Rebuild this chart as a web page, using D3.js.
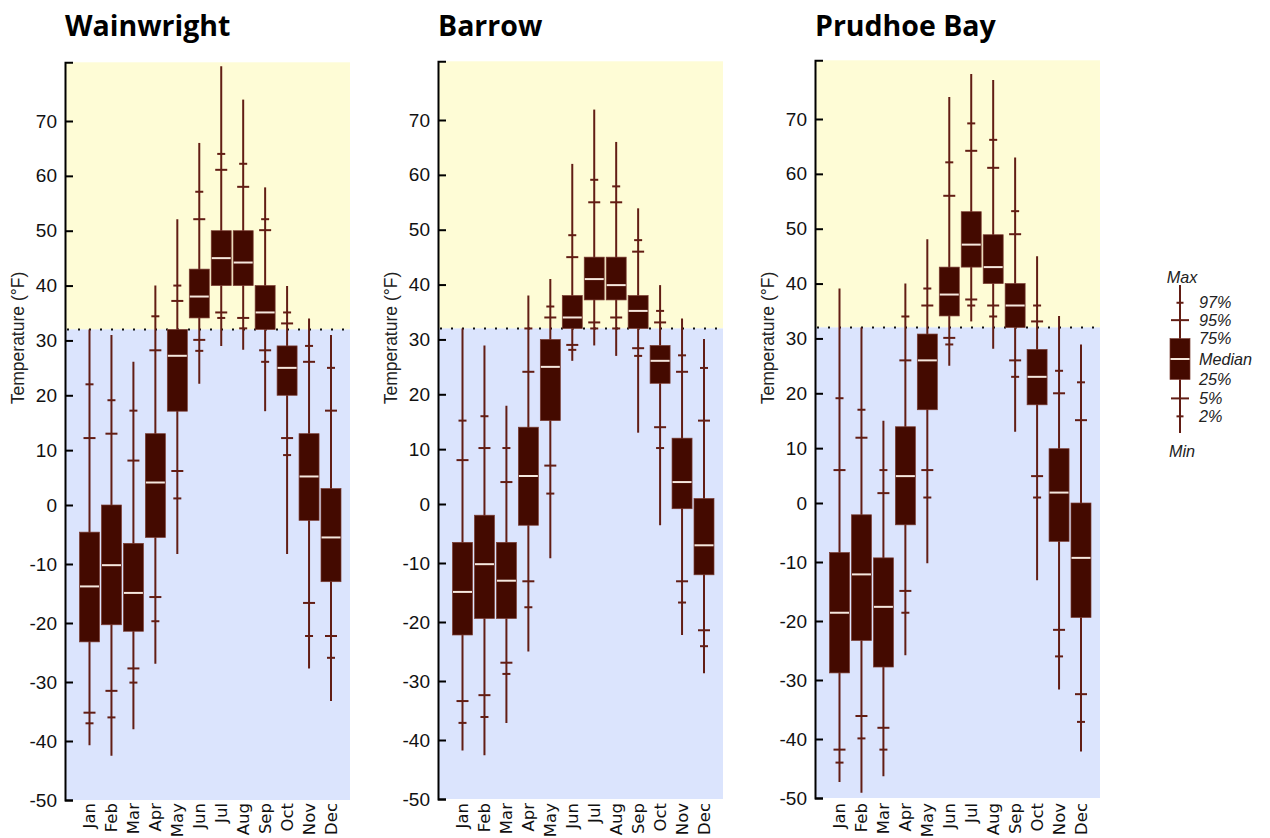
<!DOCTYPE html>
<html>
<head>
<meta charset="utf-8">
<script src="https://cdn.jsdelivr.net/npm/d3@7"></script>
<style>
  body { margin: 0; background: #fff; }
  svg { display: block; }
</style>
</head>
<body>
<div id="chart"></div>
<script>
// monthly temperature distributions (°F): [min, 2%, 5%, 25%, median, 75%, 95%, 97%, max]
const months = ['Jan', 'Feb', 'Mar', 'Apr', 'May', 'Jun', 'Jul', 'Aug', 'Sep', 'Oct', 'Nov', 'Dec'];

const wainwright = [
  [-40.7, -37.0, -35.2, -23.2, -13.8, -4.6, 12.2, 22.0, 32.0],
  [-42.5, -36.0, -31.5, -20.3, -10.2, 0.0, 13.0, 19.1, 31.0],
  [-38.0, -30.1, -27.7, -21.4, -14.9, -6.5, 8.1, 17.2, 26.1],
  [-26.9, -19.7, -15.6, -5.5, 4.1, 13.0, 28.2, 34.4, 40.0],
  [-8.3, 1.2, 6.2, 17.1, 27.2, 32.0, 37.2, 40.0, 52.1],
  [22.1, 28.1, 30.1, 34.1, 38.0, 43.0, 52.1, 57.1, 66.0],
  [29.0, 34.1, 35.1, 40.0, 45.0, 50.0, 61.1, 64.0, 80.0],
  [28.3, 32.2, 34.1, 40.0, 44.2, 50.0, 58.0, 62.2, 73.9],
  [17.1, 26.1, 28.2, 32.0, 35.1, 40.0, 50.1, 52.1, 57.9],
  [-8.3, 9.1, 12.2, 20.0, 25.0, 29.0, 33.1, 35.1, 39.9],
  [-27.7, -22.2, -16.6, -2.6, 5.2, 13.0, 26.1, 29.0, 34.0],
  [-33.2, -25.9, -22.2, -13.0, -5.5, 3.0, 17.2, 25.0, 31.0]
];

const barrow = [
  [-41.8, -37.1, -33.4, -22.2, -14.9, -6.5, 8.0, 15.2, 32.0],
  [-42.6, -36.1, -32.4, -19.4, -10.2, -1.9, 10.2, 16.0, 28.9],
  [-37.1, -28.8, -26.9, -19.4, -13.0, -6.5, 4.0, 10.2, 17.9],
  [-25.0, -17.5, -13.1, -3.6, 5.1, 14.0, 24.1, 32.0, 38.0],
  [-9.2, 1.9, 7.0, 15.2, 25.0, 30.0, 34.0, 36.0, 41.0],
  [26.1, 28.1, 29.0, 32.0, 34.0, 38.0, 45.0, 49.0, 62.0],
  [28.9, 32.0, 33.1, 37.2, 41.0, 45.0, 55.0, 59.1, 71.9],
  [27.0, 32.0, 34.0, 37.2, 39.9, 45.0, 55.0, 57.9, 66.0],
  [13.0, 27.0, 28.4, 32.0, 35.2, 38.0, 46.0, 48.1, 53.9],
  [-3.6, 10.2, 14.0, 22.0, 26.1, 28.9, 33.1, 35.2, 39.9],
  [-22.2, -16.7, -13.1, -0.8, 4.0, 12.0, 24.1, 27.1, 33.8],
  [-28.7, -24.1, -21.4, -12.0, -7.0, 1.0, 15.2, 24.8, 30.1]
];

const prudhoeBay = [
  [-47.3, -44.0, -41.8, -28.8, -18.6, -8.4, 6.0, 19.1, 39.1],
  [-49.1, -39.9, -36.1, -23.3, -12.1, -2.0, 11.9, 17.0, 32.0],
  [-46.3, -41.8, -38.1, -27.8, -17.6, -9.3, 1.8, 6.0, 15.0],
  [-25.8, -18.6, -14.9, -3.7, 4.9, 13.9, 26.0, 34.0, 40.0],
  [-10.2, 1.0, 6.0, 17.0, 26.0, 30.8, 36.0, 39.1, 48.1],
  [25.0, 28.9, 30.1, 34.1, 38.0, 43.0, 56.0, 62.1, 74.0],
  [33.1, 36.0, 37.1, 43.0, 47.1, 53.1, 64.2, 69.2, 78.2],
  [28.1, 34.0, 36.0, 40.0, 43.0, 48.9, 61.1, 66.2, 77.1],
  [13.0, 23.0, 26.0, 32.0, 36.0, 40.0, 49.0, 53.2, 63.0],
  [-13.1, 1.0, 4.9, 17.9, 23.0, 28.0, 33.1, 36.0, 45.0],
  [-31.6, -26.0, -21.5, -6.5, 1.9, 9.9, 20.0, 24.1, 34.1],
  [-42.1, -37.1, -32.4, -19.4, -9.3, 0.0, 15.1, 22.0, 28.9]
];

const yTicks = d3.range(-50, 71, 10);
const yDomain = [-50, 0, 80.7];
const freezing = 32;

// schematic legend box: label, position on a 0..8 legend scale
const legendLabels = ['Max', '97%', '95%', '75%', 'Median', '25%', '5%', '2%', 'Min'];
const legendLevels = [0, 0.96, 1.9, 2.9, 4.0, 5.1, 6.13, 7.1, 8];

// ---------------------------------------------------------------------------
const width = 1270, height = 838;
const panelW = 285;
const boxW = 20;
const colBox = '#440a00', colWhisker = '#621d14', colMedian = '#f6e8de';
const colWarm = '#fefcd6', colCold = '#dbe4fd';

const panels = [
  { name: 'Wainwright', rows: wainwright, left: 65, dy: 0 },
  { name: 'Barrow', rows: barrow, left: 438, dy: -1 },
  { name: 'Prudhoe Bay', rows: prudhoeBay, left: 815, dy: -2 }
];

const svg = d3.select('#chart').append('svg')
  .attr('width', width).attr('height', height)
  .attr('viewBox', `0 0 ${width} ${height}`);

const x = d3.scalePoint().domain(months).range([24.5, 266]);

panels.forEach((p) => {
  const y = d3.scaleLinear().domain(yDomain).range([800 + p.dy, 505 + p.dy, 62.3 + p.dy]);
  const g = svg.append('g').attr('transform', `translate(${p.left},0)`);

  // background bands split at freezing
  g.append('rect').attr('x', 0).attr('width', panelW)
    .attr('y', y(yDomain[2])).attr('height', y(freezing) - y(yDomain[2]))
    .attr('fill', colWarm);
  g.append('rect').attr('x', 0).attr('width', panelW)
    .attr('y', y(freezing)).attr('height', y(yDomain[0]) - y(freezing))
    .attr('fill', colCold);
  g.append('line').attr('x1', 2).attr('x2', panelW)
    .attr('y1', y(freezing)).attr('y2', y(freezing))
    .attr('stroke', '#111').attr('stroke-width', 2).attr('stroke-dasharray', '2,9');

  const stats = p.rows.map((r, i) => ({ month: months[i], min: r[0], p2: r[1], p5: r[2], p25: r[3], med: r[4], p75: r[5], p95: r[6], p97: r[7], max: r[8] }));

  const box = g.selectAll('g.box').data(stats).join('g').attr('class', 'box')
    .attr('transform', (d) => `translate(${x(d.month)},0)`);

  box.append('line').attr('y1', (d) => y(d.max)).attr('y2', (d) => y(d.min))
    .attr('stroke', colWhisker).attr('stroke-width', 2);

  [['p97', 4], ['p95', 6], ['p5', 6], ['p2', 4]].forEach(([k, hw]) => {
    box.append('line').attr('x1', -hw).attr('x2', hw)
      .attr('y1', (d) => y(d[k])).attr('y2', (d) => y(d[k]))
      .attr('stroke', colWhisker).attr('stroke-width', 2);
  });

  box.append('rect').attr('x', -boxW / 2).attr('width', boxW)
    .attr('y', (d) => y(d.p75)).attr('height', (d) => y(d.p25) - y(d.p75))
    .attr('fill', colBox).attr('stroke', '#7a3c32').attr('stroke-width', 0.7);

  box.append('line').attr('x1', -boxW / 2 + 0.5).attr('x2', boxW / 2 - 0.5)
    .attr('y1', (d) => y(d.med)).attr('y2', (d) => y(d.med))
    .attr('stroke', colMedian).attr('stroke-width', 2);

  // y axis, ticks pointing inward
  const ax = g.append('g')
    .call(d3.axisLeft(y).tickValues(yTicks).tickSize(-8).tickSizeOuter(-8).tickPadding(8).tickFormat((d) => String(d)));
  ax.select('.domain').attr('stroke', '#000').attr('stroke-width', 2);
  ax.selectAll('.tick line').attr('stroke', '#000').attr('stroke-width', 2);
  ax.selectAll('.tick text')
    .attr('fill', '#111').style('font', '19px "Liberation Sans", Arial, sans-serif');

  // month labels
  g.selectAll('text.month').data(months).join('text').attr('class', 'month')
    .attr('transform', (m) => `translate(${x(m)},803) rotate(-90)`)
    .attr('text-anchor', 'end').attr('dy', '0.35em')
    .attr('fill', '#111')
    .style('font', '16.5px "DejaVu Sans", Verdana, sans-serif')
    .text((m) => m);

  g.append('text')
    .attr('transform', `translate(-47,338) rotate(-90)`)
    .attr('text-anchor', 'middle').attr('dy', '0.35em')
    .attr('fill', '#222')
    .style('font', '17.5px "Liberation Sans", Arial, sans-serif')
    .text('Temperature (°F)');

  svg.append('text')
    .attr('x', p.left).attr('y', 36)
    .attr('fill', '#000')
    .style('font', '700 28.5px "Open Sans", sans-serif')
    .text(p.name);
});

// legend
const lg = svg.append('g').attr('transform', 'translate(1180,0)');
const ly = d3.scaleLinear().domain([0, 8]).range([285, 433]);
const lv = Object.fromEntries(legendLabels.map((l, i) => [l, legendLevels[i]]));

lg.append('line').attr('y1', ly(lv.Max)).attr('y2', ly(lv.Min))
  .attr('stroke', colWhisker).attr('stroke-width', 2);
[['97%', 3.5], ['95%', 9], ['5%', 9], ['2%', 3.5]].forEach(([k, hw]) => {
  lg.append('line').attr('x1', -hw).attr('x2', hw)
    .attr('y1', ly(lv[k])).attr('y2', ly(lv[k]))
    .attr('stroke', colWhisker).attr('stroke-width', 2);
});
lg.append('rect').attr('x', -10).attr('width', 20)
  .attr('y', ly(lv['75%'])).attr('height', ly(lv['25%']) - ly(lv['75%']))
  .attr('fill', colBox).attr('stroke', '#7a3c32').attr('stroke-width', 0.7);
lg.append('line').attr('x1', -9.5).attr('x2', 9.5)
  .attr('y1', ly(lv.Median)).attr('y2', ly(lv.Median))
  .attr('stroke', colMedian).attr('stroke-width', 2);

lg.selectAll('text').data(legendLabels).join('text')
  .attr('x', (l) => (l === 'Max' || l === 'Min') ? 2 : 19)
  .attr('y', (l) => l === 'Max' ? ly(lv.Max) - 8 : l === 'Min' ? ly(lv.Min) + 18 : ly(lv[l]))
  .attr('text-anchor', (l) => (l === 'Max' || l === 'Min') ? 'middle' : 'start')
  .attr('dy', '0.35em')
  .attr('fill', '#222')
  .style('font', 'italic 16.2px "Liberation Sans", Arial, sans-serif')
  .text((l) => l);
</script>
</body>
</html>
